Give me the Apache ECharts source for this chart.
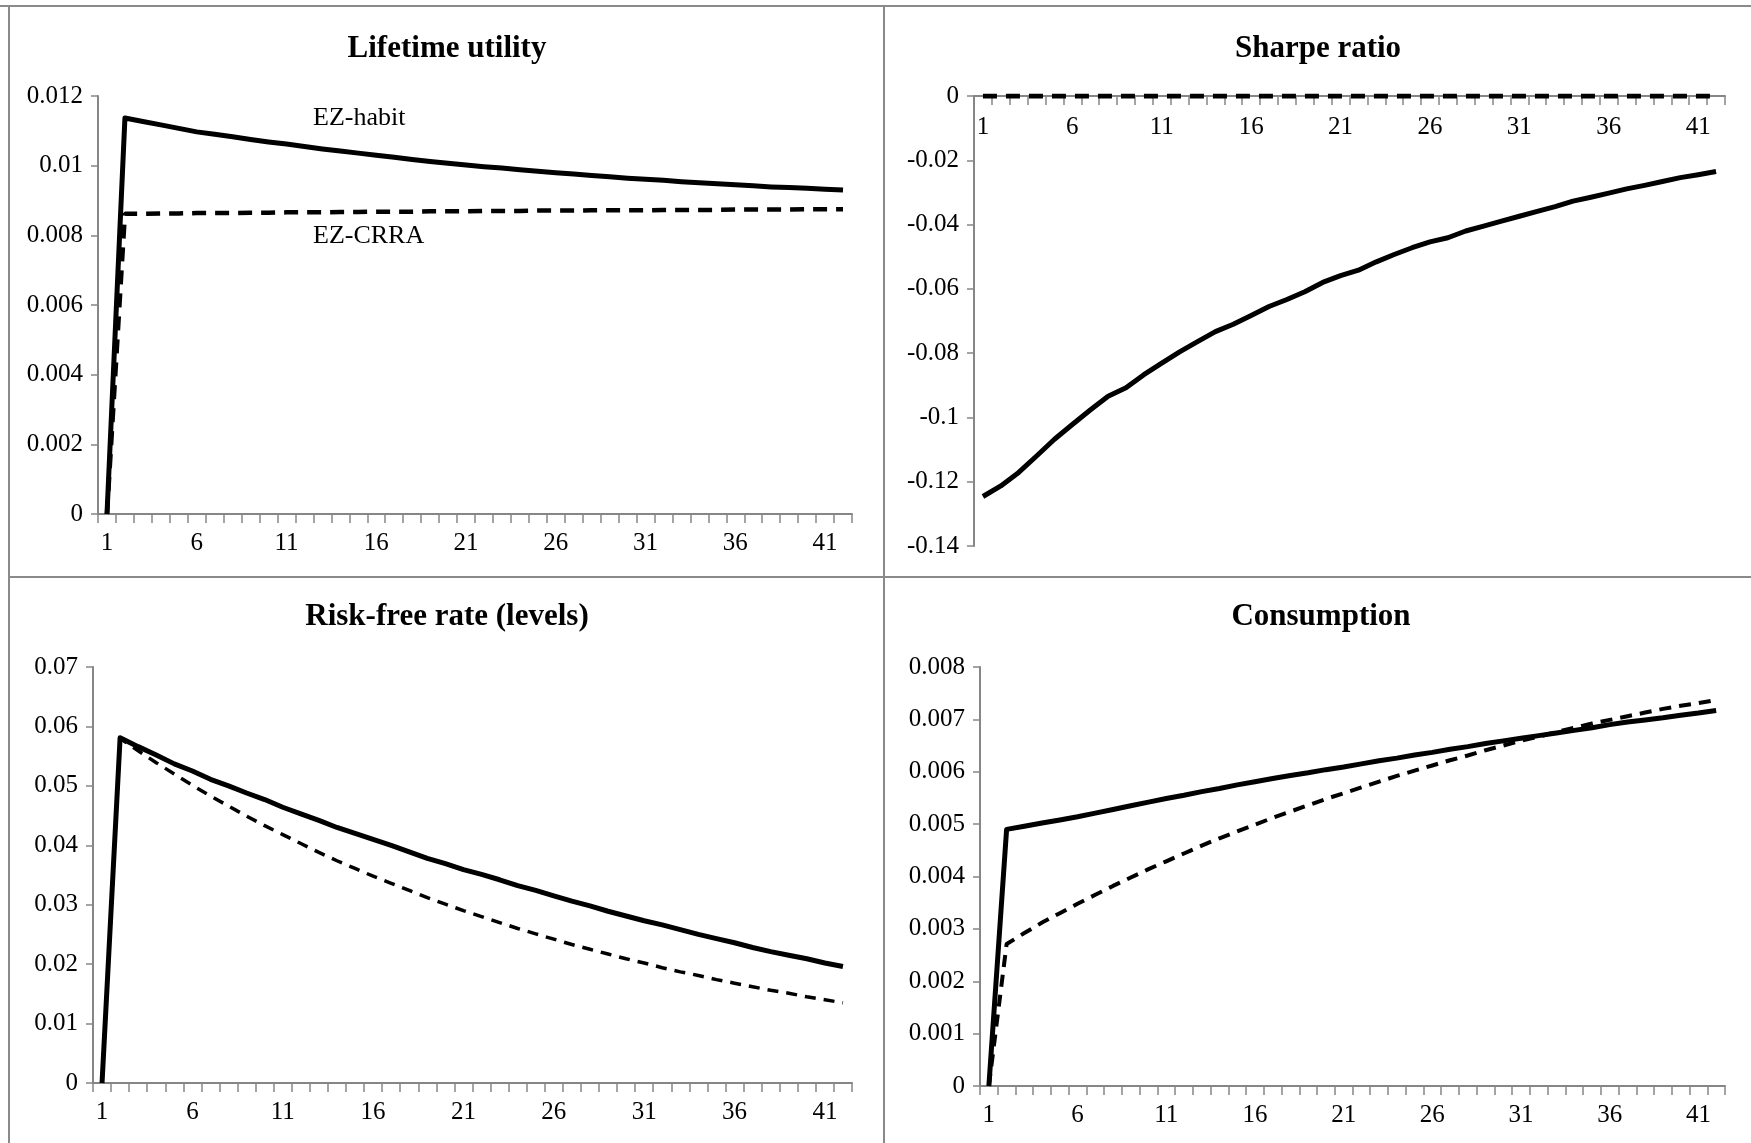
<!DOCTYPE html>
<html>
<head>
<meta charset="utf-8">
<script src="https://cdn.jsdelivr.net/npm/echarts@6/dist/echarts.min.js"></script>
<style>
  html, body { margin: 0; padding: 0; background: #fff; }
  #chart { width: 1751px; height: 1143px; }
</style>
</head>
<body>
<div id="chart"></div>
<script>
  // periods on the x axis (shared by all four panels)
  const periods = ['1','2','3','4','5','6','7','8','9','10','11','12','13','14','15','16','17','18','19','20',
    '21','22','23','24','25','26','27','28','29','30','31','32','33','34','35','36','37','38','39','40','41','42'];

  // panel titles
  const panelTitles = ['Lifetime utility', 'Sharpe ratio', 'Risk-free rate (levels)', 'Consumption'];
  const seriesNames = ['EZ-habit', 'EZ-CRRA'];

  // Lifetime utility
  const utilHabit = [0, 0.01137, 0.01127, 0.01117, 0.01107, 0.01097, 0.0109, 0.01083, 0.01075, 0.01068,
    0.01062, 0.01055, 0.01048, 0.01042, 0.01036, 0.0103, 0.01024, 0.01018, 0.01012, 0.01007,
    0.01002, 0.00997, 0.00993, 0.00988, 0.00984, 0.0098, 0.00976, 0.00972, 0.00968, 0.00964,
    0.00961, 0.00958, 0.00954, 0.00951, 0.00948, 0.00945, 0.00942, 0.00939, 0.00937, 0.00935,
    0.00932, 0.0093];
  const utilCrra = [0, 0.00862, 0.00862, 0.00863, 0.00863, 0.00864, 0.00864, 0.00864, 0.00865, 0.00865,
    0.00866, 0.00866, 0.00866, 0.00867, 0.00867, 0.00868, 0.00868, 0.00868, 0.00869, 0.00869,
    0.00869, 0.0087, 0.0087, 0.0087, 0.00871, 0.00871, 0.00871, 0.00872, 0.00872, 0.00872,
    0.00872, 0.00873, 0.00873, 0.00873, 0.00873, 0.00874, 0.00874, 0.00874, 0.00874, 0.00875,
    0.00875, 0.00875];

  // Sharpe ratio
  const sharpeHabit = [-0.1246, -0.1213, -0.1171, -0.112, -0.1068, -0.1022, -0.0977, -0.0934, -0.0908, -0.0867,
    -0.0831, -0.0796, -0.0764, -0.0733, -0.071, -0.0683, -0.0655, -0.0633, -0.0609, -0.058,
    -0.0559, -0.0542, -0.0516, -0.0493, -0.0472, -0.0454, -0.0441, -0.042, -0.0405, -0.0389,
    -0.0374, -0.0359, -0.0344, -0.0327, -0.0315, -0.0302, -0.0289, -0.0278, -0.0266, -0.0254,
    -0.0245, -0.0235];
  const sharpeCrra = [0, 0, 0, 0, 0, 0, 0, 0, 0, 0, 0, 0, 0, 0, 0, 0, 0, 0, 0, 0, 0,
    0, 0, 0, 0, 0, 0, 0, 0, 0, 0, 0, 0, 0, 0, 0, 0, 0, 0, 0, 0, 0];

  // Risk-free rate (levels)
  const rfHabit = [0, 0.0581, 0.0566, 0.0552, 0.0537, 0.0525, 0.0511, 0.05, 0.0488, 0.0477,
    0.0464, 0.0453, 0.0442, 0.043, 0.042, 0.041, 0.04, 0.0389, 0.0378, 0.0369,
    0.0359, 0.0351, 0.0342, 0.0332, 0.0324, 0.0315, 0.0306, 0.0298, 0.0289, 0.0281,
    0.0273, 0.0266, 0.0258, 0.025, 0.0243, 0.0236, 0.0228, 0.0221, 0.0215, 0.0209,
    0.0202, 0.0196];
  const rfCrra = [0, 0.058, 0.0559, 0.0539, 0.052, 0.0501, 0.0483, 0.0466, 0.0449, 0.0433,
    0.0418, 0.0403, 0.0388, 0.0374, 0.0361, 0.0348, 0.0336, 0.0324, 0.0312, 0.0301,
    0.029, 0.028, 0.027, 0.026, 0.0251, 0.0242, 0.0233, 0.0225, 0.0217, 0.0209,
    0.0202, 0.0194, 0.0187, 0.0181, 0.0174, 0.0168, 0.0162, 0.0156, 0.0151, 0.0145,
    0.014, 0.0135];

  // Consumption
  const consHabit = [0, 0.0049, 0.00496, 0.00502, 0.00508, 0.00514, 0.00521, 0.00528, 0.00535, 0.00542,
    0.00549, 0.00555, 0.00562, 0.00568, 0.00575, 0.00581, 0.00587, 0.00593, 0.00598, 0.00604,
    0.00609, 0.00615, 0.00621, 0.00626, 0.00632, 0.00637, 0.00643, 0.00648, 0.00654, 0.00659,
    0.00664, 0.00669, 0.00674, 0.00679, 0.00684, 0.0069, 0.00695, 0.00699, 0.00703, 0.00708,
    0.00712, 0.00717];
  const consCrra = [0, 0.00271, 0.00292, 0.00312, 0.0033, 0.00348, 0.00365, 0.00382, 0.00398, 0.00414,
    0.00429, 0.00444, 0.00459, 0.00473, 0.00486, 0.00499, 0.00512, 0.00524, 0.00536, 0.00548,
    0.00559, 0.0057, 0.00581, 0.00592, 0.00602, 0.00612, 0.00622, 0.00631, 0.00641, 0.0065,
    0.00659, 0.00667, 0.00676, 0.00684, 0.00692, 0.00699, 0.00706, 0.00713, 0.0072, 0.00726,
    0.00731, 0.00737];

  // y axis ranges: [min, max, interval]
  const yRanges = [[0, 0.012, 0.002], [-0.14, 0, 0.02], [0, 0.07, 0.01], [0, 0.008, 0.001]];

  const FONT = '"Liberation Serif", "Times New Roman", serif';
  const AXIS_GREY = '#868686';
  const FRAME_GREY = '#8a8a8a';

  const grids = [
    {left: 98, top: 96, width: 754, height: 418},
    {left: 974, top: 96, width: 751, height: 450},
    {left: 93, top: 667, width: 759, height: 416},
    {left: 980, top: 667, width: 745, height: 419}
  ];
  const titleCenters = [[447, 33], [1318, 33], [447, 601], [1321, 601]];

  const panelData = [
    [utilHabit, utilCrra],
    [sharpeHabit, sharpeCrra],
    [rfHabit, rfCrra],
    [consHabit, consCrra]
  ];
  // dashed styles differ a little per panel in the original
  const dashStyles = [
    {width: 4.5, type: [14, 9]},
    {width: 5, type: [14, 9]},
    {width: 3.5, type: [11, 8]},
    {width: 4, type: [12, 8]}
  ];

  let myChart = echarts.init(document.getElementById('chart'), null, {renderer: 'canvas'});

  let xAxis = [], yAxis = [], series = [];
  grids.forEach((g, i) => {
    // the Sharpe ratio panel has its category axis along the top (at zero), labels underneath
    let topAxis = yRanges[i][1] === 0;
    xAxis.push({
      type: 'category',
      gridIndex: i,
      data: periods,
      position: topAxis ? 'top' : 'bottom',
      boundaryGap: true,
      axisLine: {onZero: false, lineStyle: {color: AXIS_GREY, width: 2}},
      axisTick: {show: true, inside: topAxis, interval: 0, length: 9, lineStyle: {color: AXIS_GREY, width: 1.5}},
      axisLabel: {inside: topAxis, interval: 4, margin: topAxis ? 19 : 17, color: '#000', fontSize: 25, fontFamily: FONT},
      splitLine: {show: false}
    });
    yAxis.push({
      type: 'value',
      gridIndex: i,
      min: yRanges[i][0],
      max: yRanges[i][1],
      interval: yRanges[i][2],
      axisLine: {show: true, onZero: false, lineStyle: {color: AXIS_GREY, width: 2}},
      axisTick: {show: true, length: 7, lineStyle: {color: AXIS_GREY, width: 1.5}},
      axisLabel: {margin: 15, color: '#000', fontSize: 25, fontFamily: FONT},
      splitLine: {show: false}
    });
    // solid line (EZ-habit) drawn over dashed (EZ-CRRA)
    series.push({
      name: seriesNames[1],
      type: 'line',
      xAxisIndex: i,
      yAxisIndex: i,
      data: panelData[i][1],
      showSymbol: false,
      silent: true,
      z: 2,
      lineStyle: {color: '#000', width: dashStyles[i].width, type: dashStyles[i].type}
    });
    series.push({
      name: seriesNames[0],
      type: 'line',
      xAxisIndex: i,
      yAxisIndex: i,
      data: panelData[i][0],
      showSymbol: false,
      silent: true,
      z: 3,
      lineStyle: {color: '#000', width: 5, type: 'solid', join: 'round'}
    });
  });

  let title = panelTitles.map((t, i) => ({
    text: t,
    left: titleCenters[i][0],
    top: titleCenters[i][1],
    textAlign: 'center',
    padding: 0,
    textStyle: {fontFamily: FONT, fontSize: 31, fontWeight: 'bold', color: '#000'}
  }));

  // panel frame lines
  const frameLine = (x1, y1, x2, y2) => ({
    type: 'line',
    shape: {x1: x1, y1: y1, x2: x2, y2: y2},
    style: {stroke: FRAME_GREY, lineWidth: 2},
    silent: true
  });
  const seriesLabel = (text, x, y) => ({
    type: 'text',
    x: x,
    y: y,
    style: {text: text, fontFamily: FONT, fontSize: 26, fill: '#000', align: 'left', verticalAlign: 'middle'},
    silent: true
  });

  let option = {
    backgroundColor: '#fff',
    animation: false,
    title: title,
    grid: grids.map(g => Object.assign({containLabel: false}, g)),
    xAxis: xAxis,
    yAxis: yAxis,
    series: series,
    graphic: [
      frameLine(0, 6, 1751, 6),
      frameLine(9, 6, 9, 1143),
      frameLine(884, 6, 884, 1143),
      frameLine(9, 577, 1751, 577),
      seriesLabel(seriesNames[0], 313, 118),
      seriesLabel(seriesNames[1], 313, 236)
    ]
  };

  myChart.setOption(option);
</script>
</body>
</html>
